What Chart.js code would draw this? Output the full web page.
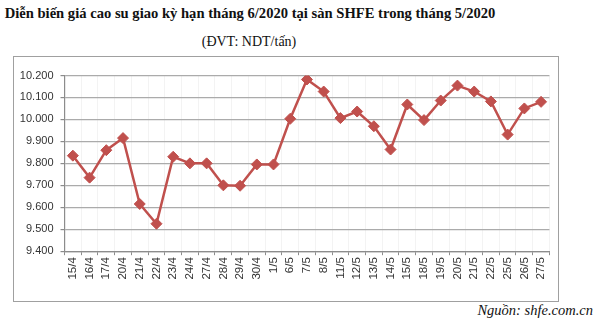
<!DOCTYPE html>
<html>
<head>
<meta charset="utf-8">
<script src="https://cdn.jsdelivr.net/npm/chart.js@4"></script>
<style>
  body { margin: 0; background: #fff; width: 600px; height: 330px; position: relative; overflow: hidden; }
  #tieude { position: absolute; left: 0; top: 5px; width: 500px; text-align: center;
    font: bold 14.6px "Liberation Serif", serif; color: #111; white-space: nowrap; }
  #donvi { position: absolute; left: 0; top: 34px; width: 498px; text-align: center;
    font: 14px "Liberation Serif", serif; color: #111; }
  #khung { position: absolute; left: 13px; top: 56px; width: 546px; height: 246px;
    border: 1.5px solid #a0a0a0; box-sizing: border-box; }
  #khung canvas { display: block; }
  #nguon { position: absolute; right: 7px; top: 302px;
    font: italic 14.5px "Liberation Serif", serif; color: #111; }
</style>
</head>
<body>
<div id="tieude">Diễn biến giá cao su giao kỳ hạn tháng 6/2020 tại sàn SHFE trong tháng 5/2020</div>
<div id="donvi">(ĐVT: NDT/tấn)</div>
<div id="khung"><canvas id="bieudo" width="543" height="243"></canvas></div>
<div id="nguon">Nguồn: shfe.com.cn</div>
<script>
// ngay giao dich
var ngay = ['15/4','16/4','17/4','20/4','21/4','22/4','23/4','24/4','27/4','28/4','29/4','30/4',
            '1/5','6/5','7/5','8/5','11/5','12/5','13/5','14/5','15/5','18/5','19/5','20/5',
            '21/5','22/5','25/5','26/5','27/5'];
// gia (NDT/tan)
var gia = [9835, 9735, 9860, 9915, 9615, 9525, 9830, 9800, 9800, 9700, 9698, 9795,
           9795, 10003, 10182, 10127, 10006, 10036, 9969, 9863, 10068, 9997, 10086, 10154,
           10127, 10082, 9931, 10050, 10080];
// truc tung
var yMin = 9400, yMax = 10200, yBuoc = 100;

function dinhDang(v) {
    return String(v).replace(/\B(?=(\d{3})+(?!\d))/g, '.');
}

var ctx = document.getElementById('bieudo').getContext('2d');
new Chart(ctx, {
    type: 'line',
    data: {
        labels: ngay,
        datasets: [{
            data: gia,
            borderColor: '#c0504d',
            backgroundColor: '#c0504d',
            borderWidth: 2.5,
            pointStyle: 'rectRot',
            pointRadius: 5.5,
            pointBorderWidth: 1,
            tension: 0
        }]
    },
    options: {
        responsive: false,
        animation: false,
        layout: { padding: { top: 18.5, right: 7.5, left: 0, bottom: 0 } },
        plugins: { legend: { display: false }, tooltip: { enabled: false } },
        scales: {
            x: {
                offset: true,
                grid: { offset: true, color: '#f3f3f3', tickColor: '#8c8c8c', tickLength: 4, lineWidth: 1 },
                border: { color: '#8c8c8c', width: 1.2 },
                ticks: {
                    autoSkip: false, maxRotation: 90, minRotation: 90, padding: 2,
                    color: '#333', font: { family: '"Liberation Sans", Arial', size: 11.5 }
                },
                afterFit: function (s) { s.height = 48.8; }
            },
            y: {
                min: yMin, max: yMax,
                grid: { color: '#ababab', tickColor: '#8c8c8c', tickLength: 4, lineWidth: 1.2 },
                border: { color: '#8c8c8c', width: 1.2 },
                ticks: {
                    stepSize: yBuoc, padding: 7, color: '#333',
                    font: { family: '"Liberation Sans", Arial', size: 11 },
                    callback: function (v) { return dinhDang(v); }
                },
                afterFit: function (s) { s.width = 50.5; }
            }
        }
    }
});
</script>
</body>
</html>
